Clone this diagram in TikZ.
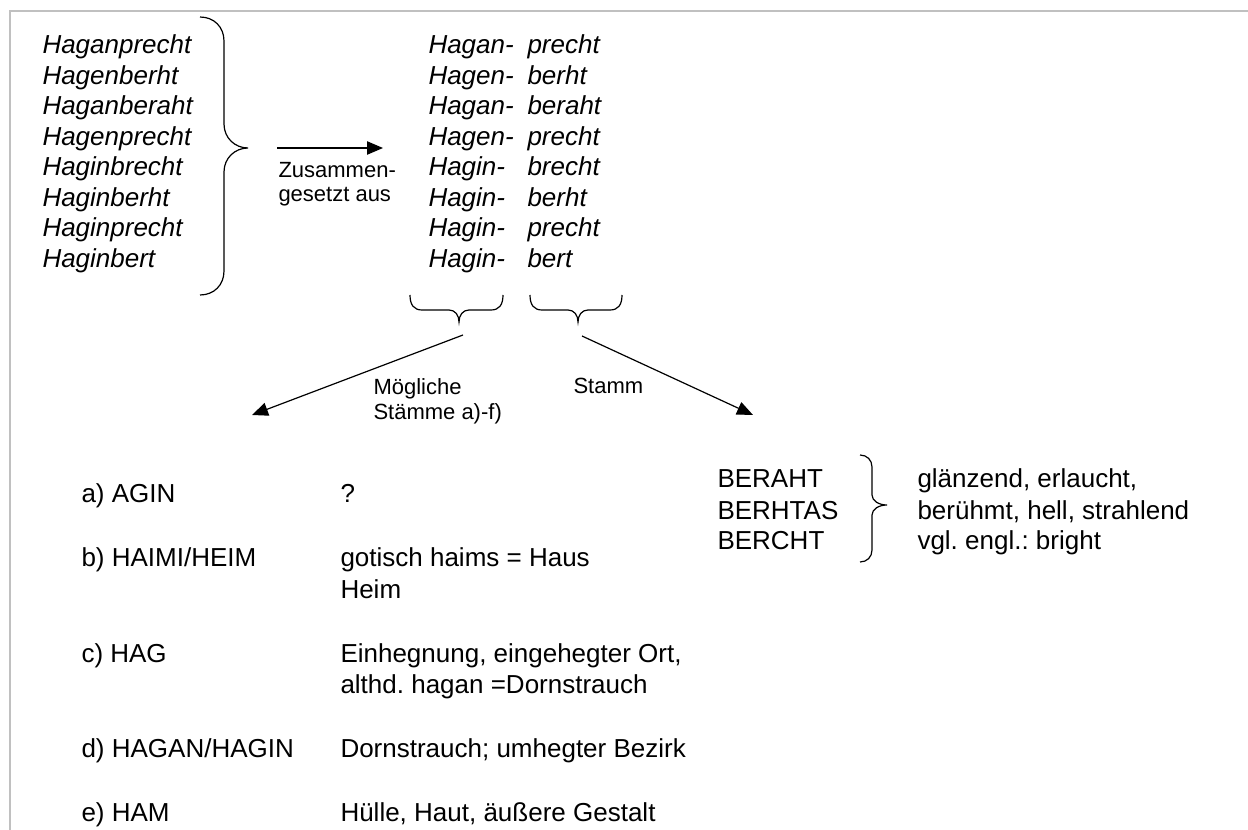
\documentclass[tikz,border=0pt]{standalone}
\usepackage{fontspec}
\setmainfont{Liberation Sans}
\usetikzlibrary{arrows.meta}
\frenchspacing

\tikzset{every picture/.style={line width=0.75pt}}

\begin{document}
\begin{tikzpicture}[x=0.75pt,y=0.75pt,yscale=-1,xscale=1,
  namefont/.style={anchor=base west,inner sep=0pt,font=\fontsize{19.5}{23}\selectfont\itshape},
  stemfont/.style={anchor=base west,inner sep=0pt,font=\fontsize{19.5}{23}\selectfont},
  notefont/.style={anchor=base west,inner sep=0pt,font=\fontsize{16.5}{19}\selectfont},
  bracket/.style={line width=0.9pt},
  tri/.style={line width=0.9pt,-{Triangle[length=12pt,width=10pt]}}]
\useasboundingbox (0,0) rectangle (1248,830);
%Frame
\draw [color={rgb, 255:red, 192; green, 192; blue, 192 }, line width=1.5pt]  (10,830) -- (10,11) -- (1248,11) ;
% Text Node
\draw (42,54) node [namefont] (name1) {Haganprecht};
\draw (42,84.5) node [namefont] (name2) {Hagenberht};
\draw (42,115) node [namefont] (name3) {Haganberaht};
\draw (42,145.5) node [namefont] (name4) {Hagenprecht};
\draw (42,176) node [namefont] (name5) {Haginbrecht};
\draw (42,206.5) node [namefont] (name6) {Haginberht};
\draw (42,237) node [namefont] (name7) {Haginprecht};
\draw (42,267.5) node [namefont] (name8) {Haginbert};
%Shape: Right Brace
\draw [bracket]  (200,17) .. controls (214,17) and (224,27) .. (224,41) -- (224,124) .. controls (224,138) and (235,148) .. (248,148) .. controls (235,148) and (224,158) .. (224,172) -- (224,271) .. controls (224,285) and (214,295) .. (200,295) ;
%Straight Lines
\coordinate (zusFrom) at (277,148);
\coordinate (zusTo) at (383,148);
\draw [tri]  (zusFrom) -- (zusTo) ;
% Text Node
\draw (278,178) node [notefont] (zusammen) {Zusammen-};
\draw (278,202) node [notefont] (gesetzt) {gesetzt aus};
% Text Node
\draw (428,54) node [namefont] (pre1) {Hagan-};
\draw (428,84.5) node [namefont] (pre2) {Hagen-};
\draw (428,115) node [namefont] (pre3) {Hagan-};
\draw (428,145.5) node [namefont] (pre4) {Hagen-};
\draw (428,176) node [namefont] (pre5) {Hagin-};
\draw (428,206.5) node [namefont] (pre6) {Hagin-};
\draw (428,237) node [namefont] (pre7) {Hagin-};
\draw (428,267.5) node [namefont] (pre8) {Hagin-};
\draw (527,54) node [namefont] (suf1) {precht};
\draw (527,84.5) node [namefont] (suf2) {berht};
\draw (527,115) node [namefont] (suf3) {beraht};
\draw (527,145.5) node [namefont] (suf4) {precht};
\draw (527,176) node [namefont] (suf5) {brecht};
\draw (527,206.5) node [namefont] (suf6) {berht};
\draw (527,237) node [namefont] (suf7) {precht};
\draw (527,267.5) node [namefont] (suf8) {bert};
%Shape: Bottom Brace
\draw [bracket]  (410,295) .. controls (410,305) and (414,310) .. (422,310) -- (449,310) .. controls (455,310) and (459,315) .. (459,322) .. controls (459,315) and (463,310) .. (469,310) -- (491,310) .. controls (499,310) and (503,305) .. (503,295) ;
%Shape: Bottom Brace
\draw [bracket]  (530,295) .. controls (530,305) and (534,310) .. (542,310) -- (568,310) .. controls (574,310) and (578,315) .. (578,322) .. controls (578,315) and (582,310) .. (588,310) -- (610,310) .. controls (618,310) and (622,305) .. (622,295) ;
%Straight Lines
\coordinate (stemsFrom) at (463,335);
\coordinate (stemsTo) at (252,415);
\draw [tri]  (stemsFrom) -- (stemsTo) ;
%Straight Lines
\coordinate (stammFrom) at (582,336);
\coordinate (stammTo) at (753,415);
\draw [tri]  (stammFrom) -- (stammTo) ;
% Text Node
\draw (373,394) node [notefont] (moeglich) {Mögliche};
\draw (373,419) node [notefont] (staemme) {Stämme a)-f)};
\draw (573,393) node [notefont] (stamm) {Stamm};
% Text Node
\draw (81,502) node [stemfont] (stemA) {a) AGIN};
\draw (81,566) node [stemfont] (stemB) {b) HAIMI/HEIM};
\draw (81,662) node [stemfont] (stemC) {c) HAG};
\draw (81,757) node [stemfont] (stemD) {d) HAGAN/HAGIN};
\draw (81,821) node [stemfont] (stemE) {e) HAM};
\draw (340,502) node [stemfont] (meanA) {?};
\draw (340,566) node [stemfont] (meanB) {gotisch haims = Haus};
\draw (340,598) node [stemfont] (meanB2) {Heim};
\draw (340,662) node [stemfont] (meanC) {Einhegnung, eingehegter Ort,};
\draw (340,693) node [stemfont] (meanC2) {althd. hagan =Dornstrauch};
\draw (340,757) node [stemfont] (meanD) {Dornstrauch; umhegter Bezirk};
\draw (340,821) node [stemfont] (meanE) {Hülle, Haut, äußere Gestalt};
% Text Node
\draw (717,487) node [stemfont] (berA) {BERAHT};
\draw (717,519) node [stemfont] (berB) {BERHTAS};
\draw (717,549) node [stemfont] (berC) {BERCHT};
%Shape: Right Brace
\draw [bracket]  (860,455) .. controls (867,455) and (872,460) .. (872,467) -- (872,495) .. controls (872,501) and (879,505) .. (887,505) .. controls (879,505) and (872,509) .. (872,515) -- (872,550) .. controls (872,557) and (867,562) .. (860,562) ;
% Text Node
\draw (917,487) node [stemfont] (glanz) {glänzend, erlaucht,};
\draw (917,519) node [stemfont] (beruehmt) {berühmt, hell, strahlend};
\draw (917,549) node [stemfont] (engl) {vgl. engl.: bright};
\end{tikzpicture}
\end{document}
